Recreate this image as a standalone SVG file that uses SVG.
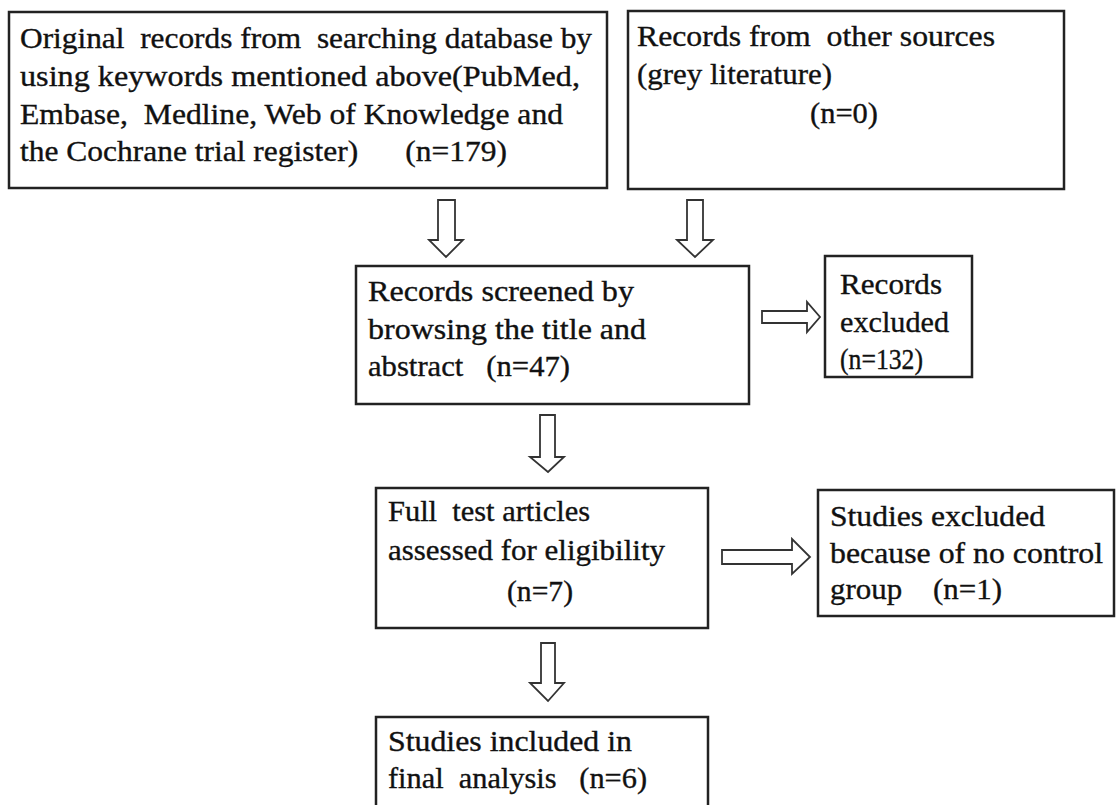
<svg xmlns="http://www.w3.org/2000/svg" width="1116" height="805" viewBox="0 0 1116 805">
<style>
.box{fill:#fff;stroke:#222;stroke-width:2.5}
.arr{fill:#fff;stroke:#333;stroke-width:1.8;stroke-linejoin:miter}
text{font-family:"Liberation Serif","Times New Roman",serif;font-size:30px;fill:#111;stroke:#111;stroke-width:0.35;white-space:pre}
</style>
<rect width="1116" height="805" fill="#fff"/>
<g id="connectors">
<polygon class="arr" points="438,200 455,200 455,240 463,240 446,257 429,240 438,240"/>
<polygon class="arr" points="687,200 703,200 703,240 713,240 695,257 677,240 687,240"/>
<polygon class="arr" points="762,311 807,311 807,302 820,317 807,332 807,323 762,323"/>
<polygon class="arr" points="540,415 555,415 555,457 564,457 548,472 530,457 540,457"/>
<polygon class="arr" points="722,550 792,550 792,539 810,557 792,574 792,564 722,564"/>
<polygon class="arr" points="541,643 555,643 555,683 564,683 548,701 530,683 541,683"/>
</g>
<g id="n1">
<rect class="box" x="9" y="12" width="598" height="176"/>
<text x="20" y="48" textLength="572" lengthAdjust="spacingAndGlyphs">Original  records from  searching database by</text>
<text x="20" y="86" textLength="560" lengthAdjust="spacingAndGlyphs">using keywords mentioned above(PubMed,</text>
<text x="20" y="124" textLength="543" lengthAdjust="spacingAndGlyphs">Embase,  Medline, Web of Knowledge and</text>
<text x="20" y="161" textLength="487" lengthAdjust="spacingAndGlyphs">the Cochrane trial register)      (n=179)</text>
</g>
<g id="n2">
<rect class="box" x="628" y="11" width="436" height="178"/>
<text x="637" y="46" textLength="358" lengthAdjust="spacingAndGlyphs">Records from  other sources</text>
<text x="637" y="84" textLength="195" lengthAdjust="spacingAndGlyphs">(grey literature)</text>
<text x="810" y="123" textLength="68" lengthAdjust="spacingAndGlyphs">(n=0)</text>
</g>
<g id="n3">
<rect class="box" x="356" y="266" width="393" height="138"/>
<text x="368" y="301" textLength="266" lengthAdjust="spacingAndGlyphs">Records screened by</text>
<text x="368" y="339" textLength="278" lengthAdjust="spacingAndGlyphs">browsing the title and</text>
<text x="368" y="376" textLength="202" lengthAdjust="spacingAndGlyphs">abstract   (n=47)</text>
</g>
<g id="n4">
<rect class="box" x="825" y="256" width="147" height="121"/>
<text x="840" y="294" textLength="102" lengthAdjust="spacingAndGlyphs">Records</text>
<text x="840" y="332" textLength="109" lengthAdjust="spacingAndGlyphs">excluded</text>
<text x="840" y="369" textLength="83" lengthAdjust="spacingAndGlyphs">(n=132)</text>
</g>
<g id="n5">
<rect class="box" x="376" y="488" width="332" height="140"/>
<text x="388" y="521" textLength="202" lengthAdjust="spacingAndGlyphs">Full  test articles</text>
<text x="388" y="560" textLength="277" lengthAdjust="spacingAndGlyphs">assessed for eligibility</text>
<text x="507" y="601" textLength="66" lengthAdjust="spacingAndGlyphs">(n=7)</text>
</g>
<g id="n6">
<rect class="box" x="818" y="490" width="296" height="126"/>
<text x="830" y="526" textLength="215" lengthAdjust="spacingAndGlyphs">Studies excluded</text>
<text x="830" y="563" textLength="273" lengthAdjust="spacingAndGlyphs">because of no control</text>
<text x="830" y="599" textLength="172" lengthAdjust="spacingAndGlyphs">group    (n=1)</text>
</g>
<g id="n7">
<rect class="box" x="376" y="717" width="332" height="120"/>
<text x="388" y="751" textLength="244" lengthAdjust="spacingAndGlyphs">Studies included in</text>
<text x="388" y="788" textLength="259" lengthAdjust="spacingAndGlyphs">final  analysis   (n=6)</text>
</g>
</svg>
